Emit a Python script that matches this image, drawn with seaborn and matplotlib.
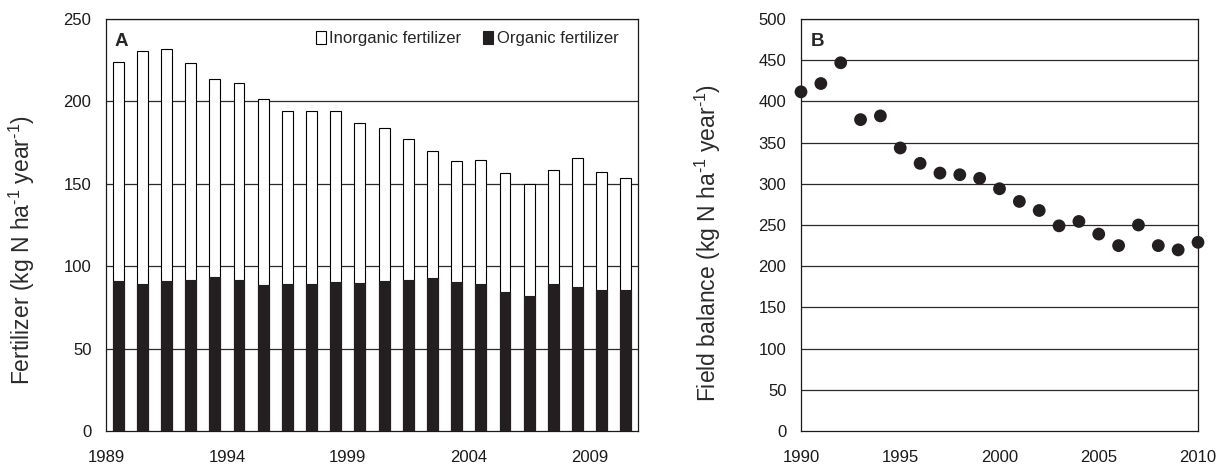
import numpy as np
import pandas as pd
import matplotlib
matplotlib.use("Agg")
import matplotlib.pyplot as plt
import seaborn as sns
from matplotlib.patches import Patch

# ---- data ----
years_a = list(range(1989, 2011))
organic = [90.9, 89.3, 90.9, 91.5, 93.7, 91.9, 88.3, 89.3, 89.3, 90.5, 89.9,
           90.9, 91.9, 92.9, 90.5, 89.3, 84.2, 82.2, 89.3, 87.1, 85.7, 85.3]
inorganic = [133.3, 141.4, 140.6, 132.1, 120.0, 119.1, 113.4, 105.1, 104.9, 103.9, 97.0,
             93.1, 85.3, 77.0, 73.1, 74.9, 72.1, 67.4, 68.8, 78.7, 71.4, 68.4]

years_b = list(range(1990, 2011))
field_balance = [411.6, 421.7, 446.9, 377.9, 382.4, 343.5, 324.8, 313.0, 311.0, 306.6,
                 294.0, 278.6, 267.6, 249.0, 254.3, 239.0, 225.0, 250.0, 225.0, 219.8, 229.0]

xtick_labels_a = ["1989", "1994", "1999", "2004", "2009"]
xticks_b = [1990, 1995, 2000, 2005, 2010]
yticks_a = [0, 50, 100, 150, 200, 250]
yticks_b = [0, 50, 100, 150, 200, 250, 300, 350, 400, 450, 500]

sns.set_theme(style="white")
plt.rcParams['font.family'] = ['Liberation Sans', 'DejaVu Sans']
plt.rcParams['mathtext.fontset'] = 'custom'
plt.rcParams['mathtext.rm'] = 'Liberation Sans'
plt.rcParams['mathtext.it'] = 'Liberation Sans:italic'
plt.rcParams['mathtext.bf'] = 'Liberation Sans:bold'

fig = plt.figure(figsize=(12.23, 4.65), dpi=100)
axA = fig.add_axes([106/1223, 34/465, 532/1223, 412/465])
axB = fig.add_axes([801/1223, 34/465, 397/1223, 412/465])

grid_col = "#2a2a2a"
dark = "#231f20"
label_col = "#2b2b2b"

# ---- Panel A ----
dfA = pd.DataFrame({"year": [str(y) for y in years_a],
                    "total": [o + i for o, i in zip(organic, inorganic)],
                    "organic": organic})
sns.barplot(data=dfA, x="year", y="total", ax=axA, color="white",
            edgecolor="black", linewidth=0.8, width=0.45, saturation=1, zorder=3)
sns.barplot(data=dfA, x="year", y="organic", ax=axA, color=dark,
            edgecolor=dark, linewidth=0.8, width=0.45, saturation=1, zorder=4)
axA.set_xlim(-0.5, len(years_a) - 0.5)
axA.set_ylim(0, 250)
axA.set_yticks(yticks_a)
axA.set_xticks([-0.5, 4.5, 9.5, 14.5, 19.5])
axA.set_xticklabels(xtick_labels_a)
axA.set_xlabel("")
axA.set_ylabel(r"Fertilizer (kg N ha$^{\text{-1}}$ year$^{\text{-1}}$)", fontsize=16.5,
               color=label_col)
axA.yaxis.set_label_coords(-0.13, 0.44)
for y in yticks_a[1:]:
    axA.axhline(y, color=grid_col, lw=0.9, zorder=1)
axA.text(0.016, 0.965, "A", transform=axA.transAxes, fontsize=13.5,
         fontweight="bold", va="top", ha="left")
handles = [Patch(facecolor="white", edgecolor="black", linewidth=0.8, label="Inorganic fertilizer"),
           Patch(facecolor=dark, edgecolor=dark, linewidth=0.8, label="Organic fertilizer")]
axA.legend(handles=handles, loc="upper right", ncol=2, frameon=False, fontsize=12,
           handlelength=0.6, handleheight=0.9, handletextpad=0.2, columnspacing=1.3,
           bbox_to_anchor=(0.985, 1.0), borderaxespad=0.3)

# ---- Panel B ----
dfB = pd.DataFrame({"year": years_b, "balance": field_balance})
sns.scatterplot(data=dfB, x="year", y="balance", ax=axB, color=dark,
                s=85, edgecolor="none", clip_on=False, zorder=5)
axB.set_xlim(1990, 2010)
axB.set_ylim(0, 500)
axB.set_xticks(xticks_b)
axB.set_yticks(yticks_b)
axB.set_xlabel("")
axB.set_ylabel(r"Field balance (kg N ha$^{\text{-1}}$ year$^{\text{-1}}$)", fontsize=16.5,
               color=label_col)
axB.yaxis.set_label_coords(-0.196, 0.456)
for y in yticks_b[1:]:
    axB.axhline(y, color=grid_col, lw=0.9, zorder=1)
axB.text(0.025, 0.965, "B", transform=axB.transAxes, fontsize=13.5,
         fontweight="bold", va="top", ha="left")

for ax in (axA, axB):
    for side in ("left", "bottom", "top", "right"):
        ax.spines[side].set_visible(True)
        ax.spines[side].set_color("#1a1a1a")
        ax.spines[side].set_linewidth(0.9)
    ax.tick_params(axis="both", which="both", direction="out", colors="#1a1a1a",
                   labelsize=12, labelcolor="#1a1a1a")
    ax.tick_params(axis="y", length=5, width=0.9, pad=5.5)
    ax.tick_params(axis="x", length=6, width=0.9, pad=8)
    ax.grid(False)

fig.savefig("out.png", dpi=100, facecolor="white")
